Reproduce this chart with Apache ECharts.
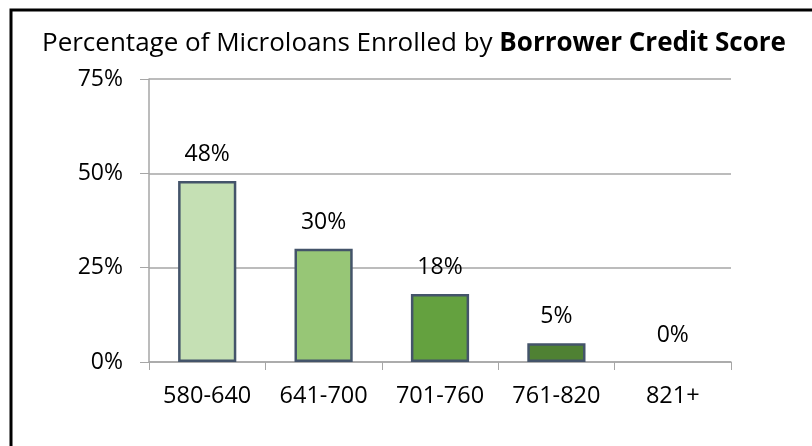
<!DOCTYPE html>
<html>
<head>
<meta charset="utf-8">
<script src="https://cdn.jsdelivr.net/npm/echarts@6/dist/echarts.min.js"></script>
<style>
  html, body { margin: 0; padding: 0; background: #fff; }
  #chart { width: 812px; height: 446px; }
</style>
</head>
<body>
<div id="chart"></div>
<script>
const categories = ['580-640', '641-700', '701-760', '761-820', '821+'];
const values = [48, 30, 18, 5, 0];
const barColors = ['#c5e0b4', '#97c676', '#64a13f', '#4f8133', '#3d6628'];
const yTicks = [0, 25, 50, 75];

const font = '"Open Sans", sans-serif';
const chart = echarts.init(document.getElementById('chart'));

chart.setOption({
  backgroundColor: '#fff',
  animation: false,
  title: {
    left: 37,
    top: 26,
    text: '{a|Percentage of Microloans Enrolled by }{b|Borrower Credit Score}',
    textStyle: {
      fontWeight: 'normal',
      rich: {
        a: { fontFamily: font, fontSize: 26, fontWeight: 'normal', color: '#000' },
        b: { fontFamily: font, fontSize: 26, fontWeight: 'bold', color: '#000' }
      }
    }
  },
  graphic: [
    { type: 'polyline', shape: { points: [[11, 446], [11, 10], [812, 10]] }, style: { stroke: '#000', lineWidth: 3, fill: null } }
  ],
  grid: { left: 149, right: 81, top: 79, bottom: 84 },
  xAxis: {
    type: 'category',
    data: categories,
    axisLine: { lineStyle: { color: '#a6a6a6', width: 1.5 } },
    axisTick: { show: true, length: 8, lineStyle: { color: '#a6a6a6' } },
    axisLabel: { interval: 0, margin: 22, fontFamily: font, fontSize: 23.5, color: '#000' }
  },
  yAxis: {
    type: 'value',
    min: yTicks[0],
    max: yTicks[yTicks.length - 1],
    interval: 25,
    axisLine: { show: true, lineStyle: { color: '#a6a6a6', width: 1.5 } },
    axisTick: { show: true, length: 9, lineStyle: { color: '#a6a6a6' } },
    splitLine: { lineStyle: { color: '#a6a6a6', width: 1.5 } },
    axisLabel: { margin: 26, fontFamily: font, fontSize: 23, color: '#000', formatter: '{value}%' }
  },
  series: [{
    type: 'bar',
    barWidth: '50%',
    data: values.map((v, i) => ({
      value: v,
      itemStyle: { color: barColors[i], borderWidth: v === 0 ? 0 : 2.5 }
    })),
    itemStyle: { borderColor: '#44546a', borderWidth: 2.5 },
    label: {
      show: true,
      position: 'top',
      distance: 15,
      fontFamily: font,
      fontSize: 23,
      color: '#000',
      formatter: '{c}%'
    }
  }]
});
</script>
</body>
</html>
